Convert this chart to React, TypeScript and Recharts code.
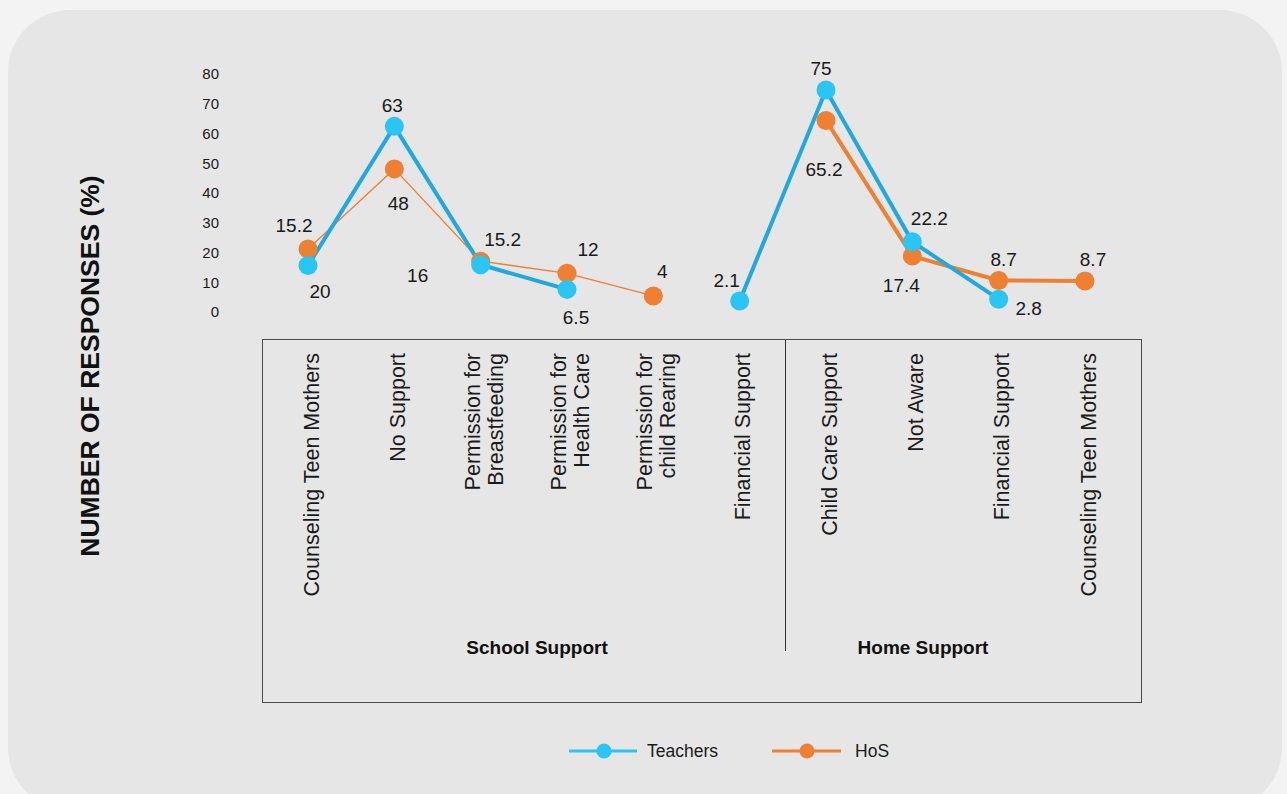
import { LineChart, Line, XAxis, YAxis } from 'recharts'

const categories = [
  'Counseling Teen Mothers',
  'No Support',
  'Permission for\nBreastfeeding',
  'Permission for\nHealth Care',
  'Permission for\nchild Rearing',
  'Financial Support',
  'Child Care Support',
  'Not Aware',
  'Financial Support',
  'Counseling Teen Mothers',
]

const teachers = [15.6, 62.4, 15.9, 7.6, null, 3.7, 74.6, 23.6, 4.3, null]
const hos = [21.2, 48.1, 17.1, 13.0, 5.4, null, 64.4, 18.8, 10.6, 10.4]

// printed labels as they appear on the original (not always the plotted value)
const teacherLabels = ['20', '63', '16', '6.5', '', '2.1', '75', '22.2', '2.8', '']
const hosLabels = ['15.2', '48', '15.2', '12', '4', '', '65.2', '17.4', '8.7', '8.7']

const yTicks = [0, 10, 20, 30, 40, 50, 60, 70, 80]

const groups = [
  { name: 'School Support', x: 537 },
  { name: 'Home Support', x: 923 },
]

// label placement relative to each dot
const teacherOffsets = [[12, 26], [-2, -21], [-63, 11], [9, 28], [0, 0], [-13, -21], [-5, -22], [17, -23], [30, 9], [0, 0]]
const hosOffsets = [[-14, -24], [4, 34], [22, -22], [21, -24], [9, -25], [0, 0], [-2, 49], [-11, 29], [5, -21], [8, -22]]

const FONT = '"Liberation Sans", Arial, sans-serif'
const TEACH_LINE = '#20A9E0'
const TEACH_DOT = '#29C6F3'
const HOS = '#EF7F31'

const data = categories.map((c, i) => ({
  cat: c,
  teachers: teachers[i],
  hosSchool: i < 5 ? hos[i] : null,
  hosHome: i >= 5 ? hos[i] : null,
}))

function makeDot(key: string, fill: string, labels: string[], offsets: number[][]) {
  return (props: any) => {
    const { cx, cy, index, payload } = props
    if (cx == null || cy == null || payload == null || payload[key] == null) {
      return <g key={`${key}-${index}`} />
    }
    const [dx, dy] = offsets[index]
    return (
      <g key={`${key}-${index}`}>
        <circle cx={cx} cy={cy} r={9.5} fill={fill} />
        {labels[index] && (
          <text x={cx + dx} y={cy + dy} dy="0.35em" textAnchor="middle" fontSize={19} fontFamily={FONT} fill="#1a1a1a">
            {labels[index]}
          </text>
        )}
      </g>
    )
  }
}

function CatTick(props: any) {
  const { x, y, payload } = props
  const lines = String(payload.value).split('\n')
  const lh = 23
  const start = -((lines.length - 1) * lh) / 2
  return (
    <g transform={`translate(${x + 3}, ${y + 41}) rotate(-90)`}>
      <text textAnchor="end" fontSize={21.5} fontFamily={FONT} fill="#1a1a1a">
        {lines.map((l, i) => (
          <tspan key={i} x={0} y={start + i * lh} dy="0.35em">{l}</tspan>
        ))}
      </text>
    </g>
  )
}

export default function App() {
  return (
    <div style={{ position: 'absolute', left: 0, top: 0, width: 1287, height: 794, overflow: 'hidden', background: '#F3F3F3', fontFamily: FONT }}>
      <div style={{ position: 'absolute', left: 8, top: 10, width: 1274, height: 800, borderRadius: 62, background: '#E6E6E6' }} />

      <div style={{ position: 'absolute', left: 90, top: 366, transform: 'translate(-50%, -50%) rotate(-90deg)', whiteSpace: 'nowrap', fontWeight: 700, fontSize: 26.5, color: '#111' }}>
        NUMBER OF RESPONSES (%)
      </div>

      {/* category box with group divider */}
      <div style={{ position: 'absolute', left: 262, top: 339, width: 880, height: 364, border: '1.5px solid #4a4a4a', boxSizing: 'border-box' }} />
      <div style={{ position: 'absolute', left: 784.5, top: 340, width: 1.5, height: 311, background: '#333' }} />
      {groups.map(g => (
        <div key={g.name} style={{ position: 'absolute', left: g.x, top: 648, transform: 'translate(-50%, -50%)', whiteSpace: 'nowrap', fontWeight: 700, fontSize: 19, color: '#111' }}>
          {g.name}
        </div>
      ))}

      <div style={{ position: 'absolute', left: 0, top: 0 }}>
        <LineChart width={1287} height={794} data={data} margin={{ top: 74, right: 159, left: 165, bottom: 0 }}>
          <XAxis
            dataKey="cat"
            axisLine={false}
            tickLine={false}
            tickSize={0}
            tickMargin={0}
            height={482}
            interval={0}
            padding={{ left: 43, right: 43 }}
            tick={<CatTick />}
          />
          <YAxis
            domain={[0, 80]}
            ticks={yTicks}
            axisLine={false}
            tickLine={false}
            tickSize={6}
            tickMargin={40}
            width={100}
            tick={{ fontSize: 15, fill: '#1a1a1a', fontFamily: FONT }}
          />
          <Line
            dataKey="hosSchool"
            stroke={HOS}
            strokeWidth={1.3}
            dot={makeDot('hosSchool', HOS, hosLabels, hosOffsets)}
            activeDot={false}
            connectNulls={false}
            isAnimationActive={false}
          />
          <Line
            dataKey="hosHome"
            stroke={HOS}
            strokeWidth={4}
            dot={makeDot('hosHome', HOS, hosLabels, hosOffsets)}
            activeDot={false}
            connectNulls={false}
            isAnimationActive={false}
          />
          <Line
            dataKey="teachers"
            stroke={TEACH_LINE}
            strokeWidth={4}
            dot={makeDot('teachers', TEACH_DOT, teacherLabels, teacherOffsets)}
            activeDot={false}
            connectNulls={false}
            isAnimationActive={false}
          />
        </LineChart>
      </div>

      {/* legend */}
      <div style={{ position: 'absolute', left: 569, top: 740, display: 'flex', alignItems: 'center', fontSize: 17.5, color: '#1a1a1a' }}>
        <svg width={70} height={22}>
          <line x1={0} y1={11} x2={68} y2={11} stroke={TEACH_DOT} strokeWidth={3} />
          <circle cx={35} cy={11} r={7.5} fill={TEACH_DOT} />
        </svg>
        <span style={{ marginLeft: 8 }}>Teachers</span>
        <svg width={70} height={22} style={{ marginLeft: 54 }}>
          <line x1={0} y1={11} x2={69} y2={11} stroke={HOS} strokeWidth={3} />
          <circle cx={35} cy={11} r={7.5} fill={HOS} />
        </svg>
        <span style={{ marginLeft: 13 }}>HoS</span>
      </div>
    </div>
  )
}
